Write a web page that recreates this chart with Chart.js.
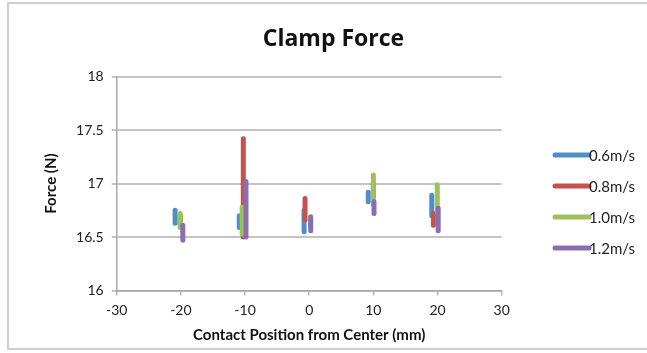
<!DOCTYPE html>
<html>
<head>
<meta charset="utf-8">
<script src="https://cdn.jsdelivr.net/npm/chart.js@4.4.1/dist/chart.umd.min.js"></script>
<style>
  body { margin: 0; background: #fff; overflow: hidden; }
  #wrap { position: relative; width: 647px; height: 353px; }
  #frame { position: absolute; left: 7px; top: 2px; width: 700px; height: 344px; border: 2px solid #cdcdcd; }
  #chart { position: absolute; left: 0; top: 0; }
</style>
</head>
<body>
<div id="wrap">
  <div id="frame"></div>
  <canvas id="chart" width="647" height="353"></canvas>
</div>
<script>
// Series labels
const speeds = ["0.6m/s", "0.8m/s", "1.0m/s", "1.2m/s"];

// Measured ranges around the nominal positions -20, -10, 0, 10, 20 mm
// 0.6 m/s
const x06 = [-20.9, -10.9, -0.8, 9.2, 19.1];
const lo06 = [16.63, 16.59, 16.55, 16.83, 16.70];
const hi06 = [16.75, 16.70, 16.75, 16.92, 16.89];
// 0.8 m/s
const x08 = [-20.1, -10.27, -0.65, 10.0, 19.35];
const lo08 = [16.62, 16.50, 16.66, 16.88, 16.61];
const hi08 = [16.70, 17.42, 16.86, 17.00, 16.72];
// 1.0 m/s
const x10 = [-20.1, -10.45, 0.23, 10.0, 19.96];
const lo10 = [16.59, 16.53, 16.59, 16.81, 16.74];
const hi10 = [16.72, 16.78, 16.66, 17.08, 16.99];
// 1.2 m/s
const x12 = [-19.7, -9.85, 0.23, 10.1, 20.1];
const lo12 = [16.47, 16.50, 16.56, 16.72, 16.56];
const hi12 = [16.61, 17.02, 16.69, 16.83, 16.77];

const colors = ["#4f8fc8", "#c9504f", "#9bc35a", "#8a6fb0"];

function segments(xs, lo, hi) {
  const pts = [];
  xs.forEach((x, i) => {
    pts.push({ x: x, y: lo[i] });
    pts.push({ x: x, y: hi[i] });
    pts.push({ x: x, y: null });
  });
  return pts;
}

const seriesData = [
  segments(x06, lo06, hi06),
  segments(x08, lo08, hi08),
  segments(x10, lo10, hi10),
  segments(x12, lo12, hi12)
];

// Simple legend on the right, drawn like Excel's
const sideLegend = {
  id: "sideLegend",
  afterDraw(chart) {
    const ctx = chart.ctx;
    ctx.save();
    chart.data.datasets.forEach((ds, i) => {
      const y = 155 + i * 31;
      ctx.strokeStyle = ds.borderColor;
      ctx.lineWidth = 5;
      ctx.lineCap = "round";
      ctx.beginPath();
      ctx.moveTo(555, y);
      ctx.lineTo(589, y);
      ctx.stroke();
      ctx.fillStyle = "#222";
      ctx.font = "15px Lato";
      ctx.textAlign = "left";
      ctx.textBaseline = "middle";
      ctx.fillText(ds.label, 589, y + 1);
    });
    ctx.restore();
  }
};

new Chart(document.getElementById("chart"), {
  type: "scatter",
  data: {
    datasets: speeds.map((label, i) => ({
      label: label,
      data: seriesData[i],
      showLine: true,
      spanGaps: false,
      borderColor: colors[i],
      backgroundColor: colors[i],
      borderWidth: 5,
      borderCapStyle: "round",
      pointRadius: 0,
      pointHoverRadius: 0,
      order: speeds.length - 1 - i
    }))
  },
  options: {
    responsive: false,
    animation: false,
    layout: { padding: { left: 20, right: 0, top: 0, bottom: 4.6 } },
    plugins: {
      legend: { display: false },
      tooltip: { enabled: false },
      title: {
        display: true,
        text: "Clamp Force",
        color: "#111",
        font: { family: "Open Sans", size: 23, weight: "bold" },
        padding: { top: 26, bottom: 23 }
      }
    },
    scales: {
      x: {
        type: "linear",
        min: -30,
        max: 30,
        ticks: { stepSize: 10, color: "#222", padding: 6, font: { family: "Lato", size: 14 } },
        grid: { drawOnChartArea: false, drawTicks: true, tickLength: 5, color: "#b5b5b5", lineWidth: 1.5 },
        border: { display: true, color: "#a8a8a8", width: 1.5 },
        title: {
          display: true,
          text: "Contact Position from Center (mm)",
          color: "#111",
          font: { family: "Lato", size: 15, weight: "bold" },
          padding: { top: 2, bottom: 4 }
        }
      },
      y: {
        min: 16,
        max: 18,
        ticks: {
          stepSize: 0.5,
          color: "#222",
          padding: 8,
          font: { family: "Lato", size: 14 },
          callback: (v) => String(Math.round(v * 10) / 10)
        },
        grid: { color: "#c4c4c4", lineWidth: 2, tickLength: 5 },
        border: { display: true, color: "#a8a8a8", width: 1.5 },
        title: {
          display: true,
          text: "Force (N)",
          color: "#111",
          font: { family: "Lato", size: 15, weight: "bold" },
          padding: { top: 22, bottom: 0 }
        },
        afterFit(scale) { scale.width = 96.7; }
      },
      // empty right-hand scale that keeps room for the legend
      legendSpace: {
        type: "linear",
        position: "right",
        display: true,
        ticks: { display: false },
        grid: { display: false, drawTicks: false },
        border: { display: false },
        afterFit(scale) { scale.width = 145.3; }
      }
    }
  },
  plugins: [sideLegend]
});
</script>
</body>
</html>
